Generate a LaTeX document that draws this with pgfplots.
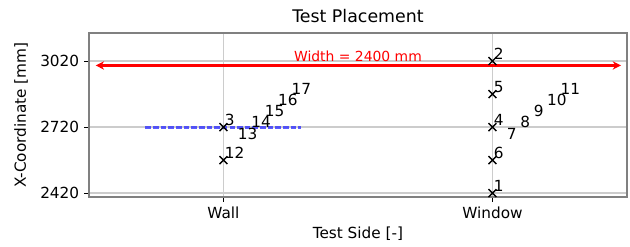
\documentclass[border=0pt]{standalone}
\usepackage{fontspec}
\setmainfont{DejaVu Sans}
\usepackage{pgfplots}
\pgfplotsset{compat=1.18}
\usetikzlibrary{arrows.meta}
\begin{document}
\begin{tikzpicture}
\begin{axis}[
  scale only axis,
  width=387pt, height=118pt,
  xmin=-0.5, xmax=1.5, ymin=2402, ymax=3147,
  xtick={0,1}, xticklabels={Wall,Window},
  ytick={2420,2720,3020},
  /pgf/number format/assume math mode=true,
  /pgf/number format/1000 sep={},
  tick align=outside, tick pos=left,
  major tick length=3.5pt,
  every tick/.style={black, line width=0.7pt},
  grid=major,
  major grid style={color=black!20, line width=1.1pt},
  axis line style={color=black!50, line width=1.1pt},
  title={Test Placement},
  xlabel={Test Side [-]},
  ylabel={X-Coordinate [mm]},
  label style={font=\fontsize{11}{13}\selectfont},
  tick label style={font=\fontsize{11}{13}\selectfont},
  title style={font=\fontsize{12.5}{15}\selectfont, yshift=-2pt},
  xlabel style={yshift=1pt},
  ylabel style={yshift=2pt},
  clip=false,
]
% blue dashed line
\addplot[color=blue!80, opacity=0.8, line width=2.2pt, dash pattern=on 4pt off 1.5pt] coordinates {(-0.29,2720) (0.29,2720)};
% red arrow
\addplot[red, line width=2pt, {Stealth[length=6pt,width=6pt]}-{Stealth[length=6pt,width=6pt]}] coordinates {(-0.475,3000) (1.478,3000)};
\node[red, font=\fontsize{10}{12}\selectfont, anchor=south, inner sep=1pt] at (axis cs:0.5,3010) {Width = 2400 mm};
% markers
\addplot[only marks, mark=x, mark size=4pt, black, line width=1pt,
  nodes near coords, point meta=explicit symbolic,
  every node near coord/.style={anchor=south west, inner sep=0.5pt, black, font=\fontsize{11}{13}\selectfont}]
  coordinates {
  (0,2720) [3]
  (0,2570) [12]
  (1,3020) [2]
  (1,2870) [5]
  (1,2720) [4]
  (1,2570) [6]
  (1,2420) [1]
};
% labels without markers
\addplot[draw=none, mark=none,
  nodes near coords, point meta=explicit symbolic,
  every node near coord/.style={anchor=south west, inner sep=0.5pt, black, font=\fontsize{11}{13}\selectfont}]
  coordinates {
  (0.05,2660) [13]
  (0.10,2712) [14]
  (0.15,2762) [15]
  (0.20,2812) [16]
  (0.25,2862) [17]
  (1.05,2660) [7]
  (1.10,2712) [8]
  (1.15,2762) [9]
  (1.20,2812) [10]
  (1.25,2862) [11]
};
\end{axis}
\path[use as bounding box] ([xshift=-64pt,yshift=-35.3pt]current axis.south west) rectangle ([xshift=2.2pt,yshift=23.8pt]current axis.north east);
\end{tikzpicture}
\end{document}
